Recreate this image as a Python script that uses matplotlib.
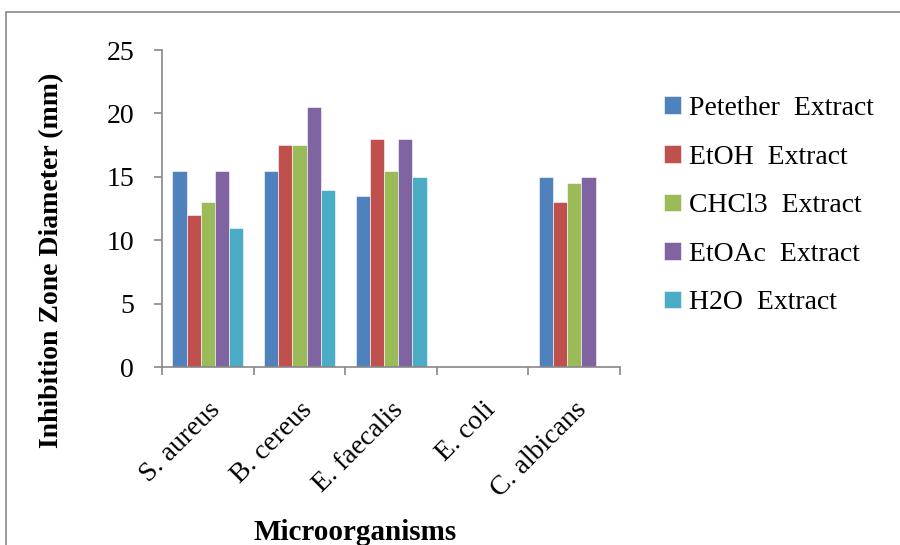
import numpy as np
import matplotlib.pyplot as plt
from matplotlib.patches import Rectangle

plt.rcParams['font.family'] = ['Liberation Serif', 'DejaVu Serif']

# Inhibition zone diameters (mm) per organism
organisms = ["S. aureus", "B. cereus", "E. faecalis", "E. coli", "C. albicans"]
extracts = ["Petether  Extract", "EtOH  Extract", "CHCl3  Extract", "EtOAc  Extract", "H2O  Extract"]
petether = [15.5, 15.5, 13.5, 0, 15]
etoh = [12, 17.5, 18, 0, 13]
chcl3 = [13, 17.5, 15.5, 0, 14.5]
etoac = [15.5, 20.5, 18, 0, 15]
h2o = [11, 14, 15, 0, 0]
series = [petether, etoh, chcl3, etoac, h2o]
colors = ["#4F81BD", "#C0504D", "#9BBB59", "#8064A2", "#4BACC6"]

fig = plt.figure(figsize=(9, 5.45), dpi=100)
ax = fig.add_axes([0.18, 0.3266, 0.509, 0.5815])

x = np.arange(len(organisms))
width = 0.155
for i, (vals, c, lab) in enumerate(zip(series, colors, extracts)):
    ax.bar(x + (i - 2) * width, vals, width, color=c, label=lab,
           edgecolor="white", linewidth=0.4)

ax.set_xlim(-0.5, len(organisms) - 0.5)
ax.set_ylim(0, 25)
ax.set_yticks([0, 5, 10, 15, 20, 25])
ax.set_xticks(np.arange(len(organisms) + 1) - 0.5, minor=False)
ax.set_xticklabels([])
ax.set_xticks(x, minor=True)
ax.set_xticklabels(organisms, minor=True, rotation=45, ha="right",
                   rotation_mode="anchor", fontsize=20)
ax.tick_params(axis="x", which="minor", length=0, pad=22)
ax.tick_params(axis="x", which="major", length=6, color="#888888", width=1.2)
ax.tick_params(axis="y", length=6, color="#888888", width=1.2, labelsize=20, pad=14)

for s in ["top", "right"]:
    ax.spines[s].set_visible(False)
for s in ["left", "bottom"]:
    ax.spines[s].set_color("#888888")
    ax.spines[s].set_linewidth(1.2)

fig.text(52 / 900, 1 - 260 / 545, "Inhibition Zone Diameter (mm)", rotation=90,
         ha="center", va="center", fontsize=20, fontweight="bold")
fig.text(355 / 900, 1 - 533 / 545, "Microorganisms", ha="center", va="center",
         fontsize=21, fontweight="bold")

leg = fig.legend(loc="upper left", bbox_to_anchor=(0.738, 1 - 96 / 545),
                 frameon=False, fontsize=20, handlelength=0.6, handleheight=0.6,
                 handletextpad=0.3, labelspacing=0.85, borderpad=0, borderaxespad=0)

# outer chart frame
fig.patches.append(Rectangle((6 / 900, -0.1), 1.2, 1 - 12 / 545 + 0.1,
                             transform=fig.transFigure, fill=False,
                             edgecolor="#898989", linewidth=1.2))

fig.savefig("out.png", dpi=100)
